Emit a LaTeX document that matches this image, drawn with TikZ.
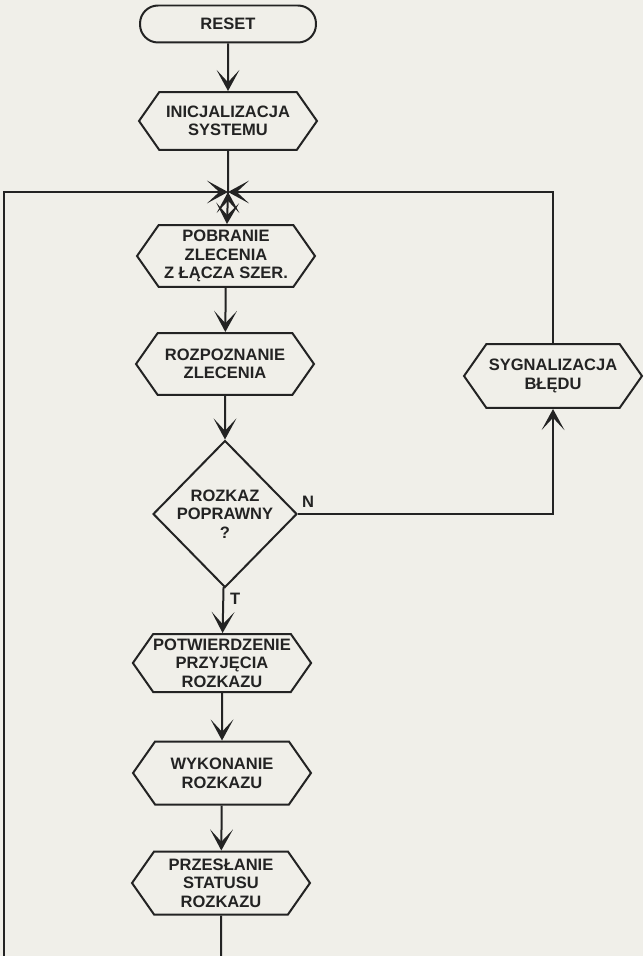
\documentclass[tikz,border=0pt]{standalone}
\usepackage{fontspec}
\setmainfont{Liberation Sans}
\usepackage{xcolor}
\usetikzlibrary{shapes.symbols, shapes.geometric, arrows.meta}
\definecolor{paper}{RGB}{240,239,233}
\definecolor{ink}{RGB}{35,35,35}

\begin{document}
\begin{tikzpicture}[x=0.02cm, y=-0.02cm, line width=0.4mm, ink,
    txt/.style={font=\fontsize{9.4}{10.6}\selectfont\bfseries, align=center},
    hexa/.style={txt, draw, signal, signal to=west and east,
      signal pointer angle=110, inner xsep=0pt, inner ysep=1pt,
      minimum width=3.56cm, minimum height=1.24cm},
    term/.style={txt, draw, rounded corners=0.36cm,
      minimum width=3.52cm, minimum height=0.74cm},
    decide/.style={draw, diamond, inner sep=0pt,
      minimum width=2.88cm, minimum height=2.94cm},
    flow/.style={-{Stealth[length=12pt, width=13pt, inset=7pt]}}]
    \fill[paper] (0,0) rectangle (643,956);
    \useasboundingbox (0,0) rectangle (643,956);

    \node[term] (reset) at (228,24) {RESET};
    \node[hexa, minimum height=1.16cm] (init) at (228,121) {INICJALIZACJA\\SYSTEMU};
    \node[hexa] (pobr) at (226,256) {POBRANIE\\ZLECENIA\\Z ŁĄCZA SZER.};
    \node[hexa] (rozp) at (225,364) {ROZPOZNANIE\\ZLECENIA};
    \node[decide, label={[txt]center:ROZKAZ\\POPRAWNY\\?}] (rozk) at (225,514) {};
    \node[hexa, minimum height=1.16cm] (potw) at (222,663) {POTWIERDZENIE\\PRZYJĘCIA\\ROZKAZU};
    \node[hexa, minimum height=1.26cm] (wyk) at (222,773) {WYKONANIE\\ROZKAZU};
    \node[hexa, minimum height=1.26cm] (przes) at (221,883) {PRZESŁANIE\\STATUSU\\ROZKAZU};
    \node[hexa, minimum height=1.28cm] (syg) at (553,376) {SYGNALIZACJA\\BŁĘDU};

    \coordinate (jn) at (228,192);
    \coordinate (tl) at (4,192);
    \coordinate (bl) at (4,956);
    \coordinate (br) at (221,956);

    \draw[flow] (reset) edge (init)
                (jn) edge (pobr)
                (pobr) edge (rozp)
                (rozp) edge (rozk)
                (rozk) edge node[txt, pos=0.25, right] {T} (potw)
                (potw) edge (wyk)
                (wyk) edge (przes);
    \draw (init) -- (jn);
    \draw (przes) -- (br);
    \draw[flow] (bl) -- (tl) -- (jn);
    \draw[flow] (syg) |- (jn);
    \draw[flow] (rozk.east) -| node[txt, pos=0.02, above] {N} (syg);
  \end{tikzpicture}
\end{document}
